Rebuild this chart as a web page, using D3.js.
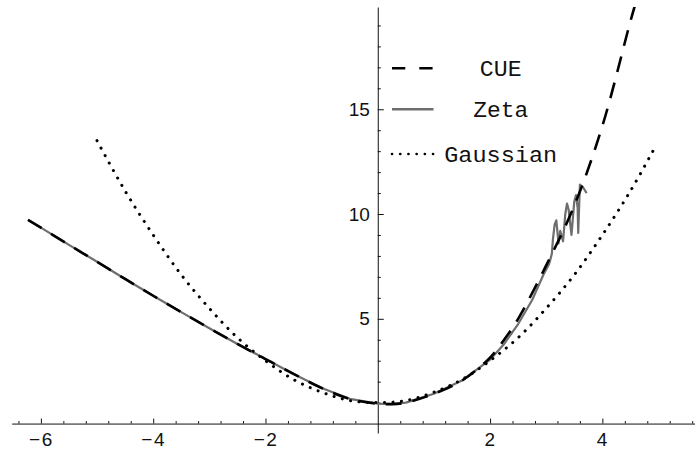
<!DOCTYPE html>
<html>
<head>
<meta charset="utf-8">
<script src="https://cdn.jsdelivr.net/npm/d3@7"></script>
<style>
  html, body { margin: 0; padding: 0; background: #fff; }
  svg { display: block; }
</style>
</head>
<body>
<div id="chart"></div>
<script>
// values
const cueX = [-6.23, -6, -5.5, -5, -4.5, -4, -3.5, -3, -2.5, -2, -1.5, -1, -0.5, 0, 0.25, 0.5, 1, 1.5, 2, 2.25, 2.5, 3, 3.5, 4, 4.5, 4.65];
const cueY = [9.72, 9.35, 8.53, 7.72, 6.9, 6.1, 5.32, 4.55, 3.8, 3.08, 2.37, 1.7, 1.18, 0.95, 0.93, 1.0, 1.42, 2.05, 3.15, 4.0, 5.0, 7.55, 10.4, 14.2, 19.2, 20.6];

const zetaX = [-6.23, -6, -5.5, -5, -4.5, -4, -3.5, -3, -2.5, -2, -1.5, -1, -0.5, 0, 0.25, 0.5, 1, 1.5, 2, 2.25, 2.5, 2.75, 2.95, 3.05, 3.1, 3.12, 3.15, 3.18, 3.22, 3.25, 3.3, 3.34, 3.37, 3.4, 3.45, 3.5, 3.53, 3.56, 3.57, 3.6, 3.65, 3.72];
const zetaY = [9.72, 9.35, 8.53, 7.72, 6.9, 6.1, 5.32, 4.55, 3.8, 3.08, 2.37, 1.7, 1.18, 0.95, 0.93, 1.0, 1.42, 2.05, 3.05, 3.8, 4.75, 5.9, 7.1, 7.6, 8.1, 8.8, 9.5, 9.7, 8.6, 9.2, 8.7, 10.0, 10.5, 10.2, 9.0, 10.6, 10.9, 10.3, 9.1, 11.4, 11.3, 11.0];

const gaussX = [-5, -4.5, -4, -3.5, -3, -2.5, -2, -1.5, -1, -0.5, 0, 0.5, 1, 1.5, 2, 2.5, 3, 3.5, 4, 4.5, 4.95];
const gaussY = [13.5, 11.1, 9.0, 7.1, 5.5, 4.1, 3.0, 2.1, 1.5, 1.1, 1.0, 1.1, 1.5, 2.1, 3.0, 4.1, 5.5, 7.1, 9.0, 11.1, 13.25];

const xTicks = [-6, -4, -2, 2, 4];
const xTickLabels = ["\u22126", "\u22124", "\u22122", "2", "4"];
const xMinor = [-6.4, -5.6, -5.2, -4.8, -4.4, -3.6, -3.2, -2.8, -2.4, -1.6, -1.2, -0.8, -0.4, 0.4, 0.8, 1.2, 1.6, 2.4, 2.8, 3.2, 3.6, 4.4, 4.8, 5.2, 5.6];
const yTicks = [5, 10, 15];
const yTickLabels = ["5", "10", "15"];
const yMinor = [1, 2, 3, 4, 6, 7, 8, 9, 11, 12, 13, 14, 16, 17, 18, 19];

const legendNames = ["CUE", "Zeta", "Gaussian"];

window.addEventListener("DOMContentLoaded", function () {
    const w = 695, h = 451;

    const svg = d3.select("#chart").append("svg")
        .attr("width", w)
        .attr("height", h);

    const xScale = d3.scaleLinear().domain([-6.52, 5.65]).range([11.7, 695]);
    const yScale = d3.scaleLinear().domain([-0.45, 19.88]).range([433, 7]);

    svg.append("clipPath").attr("id", "plotClip")
        .append("rect")
        .attr("x", 0).attr("y", yScale(19.88))
        .attr("width", w).attr("height", h);

    const tickFont = "'Liberation Sans', Arial, sans-serif";

    // x axis
    const xAxis = d3.axisBottom(xScale)
        .tickValues(xTicks)
        .tickFormat((d, i) => xTickLabels[i])
        .tickSizeInner(-5)
        .tickSizeOuter(0)
        .tickPadding(9);
    const gx = svg.append("g")
        .attr("transform", "translate(0," + yScale(0) + ")")
        .call(xAxis);
    gx.selectAll("text")
        .style("font-family", tickFont)
        .style("font-size", "19px")
        .style("letter-spacing", "1.5px")
        .attr("fill", "#111");
    gx.selectAll("line, path").attr("stroke", "#111");

    svg.append("g")
        .attr("transform", "translate(0," + yScale(0) + ")")
        .call(d3.axisBottom(xScale).tickValues(xMinor).tickFormat("").tickSizeInner(-2.5).tickSizeOuter(0))
        .call(g => g.select(".domain").remove())
        .selectAll("line").attr("stroke", "#111");

    // y axis
    const yAxis = d3.axisLeft(yScale)
        .tickValues(yTicks)
        .tickFormat((d, i) => yTickLabels[i])
        .tickSizeInner(-6)
        .tickSizeOuter(0)
        .tickPadding(8);
    const gy = svg.append("g")
        .attr("transform", "translate(" + xScale(0) + ",0)")
        .call(yAxis);
    gy.selectAll("text").style("font-family", tickFont).style("font-size", "19px").attr("fill", "#111");
    gy.selectAll("line, path").attr("stroke", "#111");

    svg.append("g")
        .attr("transform", "translate(" + xScale(0) + ",0)")
        .call(d3.axisLeft(yScale).tickValues(yMinor).tickFormat("").tickSizeInner(-3).tickSizeOuter(0))
        .call(g => g.select(".domain").remove())
        .selectAll("line").attr("stroke", "#111");

    const plot = svg.append("g").attr("clip-path", "url(#plotClip)");

    const smooth = d3.line()
        .x(d => xScale(d[0]))
        .y(d => yScale(d[1]))
        .curve(d3.curveCatmullRom);
    const straight = d3.line()
        .x(d => xScale(d[0]))
        .y(d => yScale(d[1]));

    const zetaData = zetaX.map((x, i) => [x, zetaY[i]]);
    const cueData = cueX.map((x, i) => [x, cueY[i]]);
    const gaussData = gaussX.map((x, i) => [x, gaussY[i]]);

    plot.append("path")
        .datum(zetaData)
        .attr("d", straight)
        .attr("fill", "none")
        .attr("stroke", "#6e6e6e")
        .attr("stroke-width", 2.2)
        .attr("stroke-linejoin", "round");

    plot.append("path")
        .datum(cueData)
        .attr("d", smooth)
        .attr("fill", "none")
        .attr("stroke", "#000")
        .attr("stroke-width", 2.6)
        .attr("stroke-dasharray", "16,11");

    plot.append("path")
        .datum(gaussData)
        .attr("d", smooth)
        .attr("fill", "none")
        .attr("stroke", "#000")
        .attr("stroke-width", 3)
        .attr("stroke-linecap", "round")
        .attr("stroke-dasharray", "0.1,8.4");

    // legend
    const legend = svg.append("g");
    const legendY = [68.3, 109.3, 154];
    const legendStyles = [
        { stroke: "#000", width: 2.6, dash: "13.3,14", cap: "butt" },
        { stroke: "#6e6e6e", width: 2.4, dash: null, cap: "butt" },
        { stroke: "#000", width: 2.6, dash: "0.1,8.1", cap: "round" }
    ];
    const legendWidths = [41.7, 55, 113];
    legendNames.forEach((name, i) => {
        const st = legendStyles[i];
        legend.append("line")
            .attr("x1", 392).attr("x2", 433.5)
            .attr("y1", legendY[i]).attr("y2", legendY[i])
            .attr("stroke", st.stroke)
            .attr("stroke-width", st.width)
            .attr("stroke-linecap", st.cap)
            .attr("stroke-dasharray", st.dash);
        legend.append("text")
            .attr("x", 500.7)
            .attr("y", legendY[i])
            .attr("dy", "0.35em")
            .attr("text-anchor", "middle")
            .attr("textLength", legendWidths[i])
            .attr("lengthAdjust", "spacingAndGlyphs")
            .style("font-family", "'Liberation Mono', 'Courier New', monospace")
            .style("font-size", "22px")
            .attr("fill", "#111")
            .text(name);
    });
});
</script>
</body>
</html>
